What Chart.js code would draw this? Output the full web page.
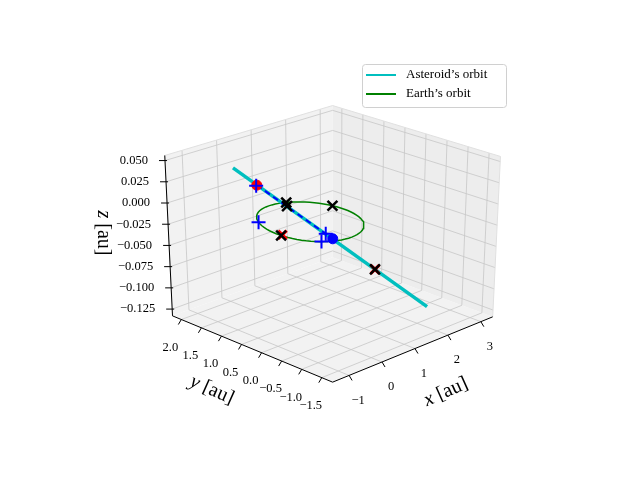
<!DOCTYPE html>
<html>
<head>
<meta charset="utf-8">
<script src="https://cdn.jsdelivr.net/npm/chart.js@4"></script>
<style>
  body { margin: 0; background: #fff; }
  canvas { display: block; }
</style>
</head>
<body>
<canvas id="c" width="640" height="480"></canvas>
<script>
// --- Data (au) ---
const xTicks = [-1, 0, 1, 2, 3];
const yTicks = [2.0, 1.5, 1.0, 0.5, 0.0, -0.5, -1.0, -1.5];
const zTicks = [0.050, 0.025, 0.000, -0.025, -0.050, -0.075, -0.100, -0.125];
const xRange = [-1.5, 3.36];
const yRange = [-1.77, 2.22];
const zRange = [-0.133, 0.056];

// asteroid orbit (seen nearly edge-on)
const asteroidOrbit = [[-0.71, 1.25, 0.05], [2.53, -0.81, -0.125]];
// earth orbit angles (deg), radius 1 au in z=0 plane
const earthAngles = Array.from({length: 73}, (_, i) => i * 5);
const asteroidPath = [[-0.328, 1.007, 0.029], [0.92, 0.214, -0.038]];
const startPoint = [[-0.328, 1.007, 0.029]];
const endPoint = [[0.92, 0.214, -0.038]];
const earthCrossAngles = [66, 15, 186.5];
const asteroidCross = [[0.165, 0.694, 0.003], [1.633, -0.239, -0.077]];
const redCross = [[-0.946, -0.107, 0], [1.633, -0.239, -0.077]];
const bluePlus = [[-0.33, 1.02, 0.028], [-0.819, 0.574, 0], [-0.52, -0.80, 0.008], [-0.62, -0.78, 0]];

// --- projection of the box (affine plus a mild depth correction) ---
const F = [333, 388];                  // corner (xmin, ymin, zmin)
const EX = [165, -68], EY = [-165, -69], EZH = 167;
function proj(p) {
  const tx = (p[0] - xRange[0]) / (xRange[1] - xRange[0]);
  const ty = (p[1] - yRange[0]) / (yRange[1] - yRange[0]);
  const tz = (p[2] - zRange[0]) / (zRange[1] - zRange[0]);
  const h = EZH - 9 * tx * ty;
  return {
    x: F[0] + tx * EX[0] + ty * EY[0] + 8 * tz * (tx - ty),
    y: F[1] + tx * EX[1] + ty * EY[1] + 7 * tx * ty - tz * h
  };
}
const earthPt = a => [Math.cos(a * Math.PI / 180), Math.sin(a * Math.PI / 180), 0];

const SERIF = '"Liberation Serif", "DejaVu Serif", serif';

const axes3d = {
  id: 'axes3d',
  beforeDatasetsDraw(chart) {
    const ctx = chart.ctx, sx = chart.scales.x, sy = chart.scales.y;
    const P = p => { const q = proj(p); return [sx.getPixelForValue(q.x), sy.getPixelForValue(q.y)]; };
    const [x0, x1] = xRange, [y0, y1] = yRange, [z0, z1] = zRange;
    const poly = (pts, fill) => {
      ctx.beginPath();
      pts.forEach((p, i) => { const q = P(p); i ? ctx.lineTo(q[0], q[1]) : ctx.moveTo(q[0], q[1]); });
      ctx.closePath(); ctx.fillStyle = fill; ctx.fill();
    };
    const line = (a, b, col, w) => {
      const p = P(a), q = P(b);
      ctx.beginPath(); ctx.moveTo(p[0], p[1]); ctx.lineTo(q[0], q[1]);
      ctx.strokeStyle = col; ctx.lineWidth = w; ctx.stroke();
    };
    ctx.save();
    poly([[x0, y0, z0], [x1, y0, z0], [x1, y1, z0], [x0, y1, z0]], '#f2f2f2');
    poly([[x0, y1, z0], [x1, y1, z0], [x1, y1, z1], [x0, y1, z1]], '#f2f2f2');
    poly([[x1, y0, z0], [x1, y1, z0], [x1, y1, z1], [x1, y0, z1]], '#ededed');
    const g = '#c6c6c6';
    xTicks.forEach(x => { line([x, y0, z0], [x, y1, z0], g, 0.8); line([x, y1, z0], [x, y1, z1], g, 0.8); });
    yTicks.forEach(y => { line([x0, y, z0], [x1, y, z0], g, 0.8); line([x1, y, z0], [x1, y, z1], g, 0.8); });
    zTicks.forEach(z => { line([x0, y1, z], [x1, y1, z], g, 0.8); line([x1, y0, z], [x1, y1, z], g, 0.8); });
    // pane edges
    line([x0, y1, z0], [x0, y1, z1], '#e0e0e0', 1);
    line([x0, y1, z1], [x1, y1, z1], '#e0e0e0', 1);
    line([x1, y1, z1], [x1, y0, z1], '#e0e0e0', 1);
    line([x1, y0, z0], [x1, y0, z1], '#e0e0e0', 1);
    // axes
    line([x0, y0, z0], [x1, y0, z0], '#000', 1);
    line([x0, y0, z0], [x0, y1, z0], '#000', 1);
    line([x0, y1, z0], [x0, y1, z1], '#000', 1);
    // ticks + labels
    ctx.fillStyle = '#000'; ctx.font = '12.5px ' + SERIF;
    ctx.textAlign = 'center'; ctx.textBaseline = 'middle';
    xTicks.forEach(x => {
      const p = P([x, y0, z0]);
      ctx.beginPath(); ctx.moveTo(p[0], p[1]); ctx.lineTo(p[0] + 3, p[1] + 5); ctx.strokeStyle = '#000'; ctx.lineWidth = 1; ctx.stroke();
      ctx.fillText(x < 0 ? '\u2212' + Math.abs(x) : String(x), p[0] + 9, p[1] + 25);
    });
    yTicks.forEach(y => {
      const p = P([x0, y, z0]);
      ctx.beginPath(); ctx.moveTo(p[0], p[1]); ctx.lineTo(p[0] - 3, p[1] + 5); ctx.stroke();
      const s = y.toFixed(1);
      ctx.fillText(y < 0 ? '\u2212' + s.slice(1) : s, p[0] - 11, p[1] + 28);
    });
    ctx.textAlign = 'right';
    zTicks.forEach(z => {
      const p = P([x0, y1, z]);
      ctx.beginPath(); ctx.moveTo(p[0] + 2, p[1]); ctx.lineTo(p[0] - 6, p[1]); ctx.stroke();
      const s = z.toFixed(3);
      ctx.fillText(z < 0 ? '\u2212' + s.slice(1) : s, p[0] - 17, p[1]);
    });
    // axis labels
    const lab = (txt, x, y, rot) => {
      ctx.save(); ctx.translate(x, y); ctx.rotate(rot);
      ctx.textBaseline = 'middle';
      ctx.font = 'italic 20px ' + SERIF; const w1 = ctx.measureText(txt[0]).width;
      ctx.font = '20px ' + SERIF; const w2 = ctx.measureText(txt[1]).width;
      const st = -(w1 + w2) / 2;
      ctx.textAlign = 'left';
      ctx.font = 'italic 20px ' + SERIF; ctx.fillText(txt[0], st, 0);
      ctx.font = '20px ' + SERIF; ctx.fillText(txt[1], st + w1, 0);
      ctx.restore();
    };
    lab(['x', ' [au]'], 446, 392, -0.42);
    lab(['y', ' [au]'], 212, 390, 0.42);
    lab(['z', ' [au]'], 103, 233, Math.PI / 2);
    ctx.restore();
  }
};

const pts = arr => arr.map(proj);
const mk = (label, data, opts) => Object.assign({ label, data, showLine: false, clip: false, pointRadius: 0 }, opts);

// listed bottom layer first; 'order' makes later datasets draw on top
const layers = [
  mk('Earth\u2019s orbit', pts(earthAngles.map(earthPt)), { showLine: true, borderColor: 'green', borderWidth: 1.5 }),
  mk('Asteroid\u2019s orbit', pts(asteroidOrbit), { showLine: true, borderColor: '#00bfbf', borderWidth: 3.5 }),
  mk('path', pts(asteroidPath), { showLine: true, borderColor: 'blue', borderWidth: 2, borderDash: [6, 4] }),
  mk('start', pts(startPoint), { pointRadius: 5, pointBackgroundColor: 'red', pointBorderColor: 'red' }),
  mk('end', pts(endPoint), { pointRadius: 5, pointBackgroundColor: 'blue', pointBorderColor: 'blue' }),
  mk('redx', pts(redCross), { pointStyle: 'crossRot', pointRadius: 6, pointBorderColor: 'red', pointBorderWidth: 3 }),
  mk('earthx', pts(earthCrossAngles.map(earthPt)), { pointStyle: 'crossRot', pointRadius: 7, pointBorderColor: '#000', pointBorderWidth: 2.5 }),
  mk('astx', pts(asteroidCross), { pointStyle: 'crossRot', pointRadius: 7, pointBorderColor: '#000', pointBorderWidth: 2.5 }),
  mk('plus', pts(bluePlus), { pointStyle: 'cross', pointRadius: 7, pointBorderColor: 'blue', pointBorderWidth: 2 })
];
layers.forEach((d, i) => { d.order = layers.length - i; });

new Chart(document.getElementById('c'), {
  type: 'scatter',
  data: { datasets: layers },
  options: {
    responsive: false, animation: false,
    layout: { padding: 0 },
    scales: {
      x: { display: false, min: 0, max: 640 },
      y: { display: false, min: 0, max: 480, reverse: true }
    },
    plugins: {
      tooltip: { enabled: false },
      legend: { display: false }
    }
  },
  plugins: [axes3d, {
    id: 'legendBox',
    afterDraw(chart) {
      const ctx = chart.ctx;
      ctx.save();
      ctx.fillStyle = '#fff'; ctx.strokeStyle = '#d0d0d0'; ctx.lineWidth = 1;
      ctx.beginPath(); ctx.roundRect(362.5, 64.5, 144, 43, 3); ctx.fill(); ctx.stroke();
      ctx.font = '13px ' + SERIF; ctx.fillStyle = '#000'; ctx.textBaseline = 'middle';
      [['Asteroid\u2019s orbit', '#00bfbf', 75], ['Earth\u2019s orbit', 'green', 94]].forEach(([t, c, y]) => {
        ctx.strokeStyle = c; ctx.lineWidth = 2;
        ctx.beginPath(); ctx.moveTo(366, y); ctx.lineTo(396, y); ctx.stroke();
        ctx.fillText(t, 406, y);
      });
      ctx.restore();
    }
  }]
});
</script>
</body>
</html>
